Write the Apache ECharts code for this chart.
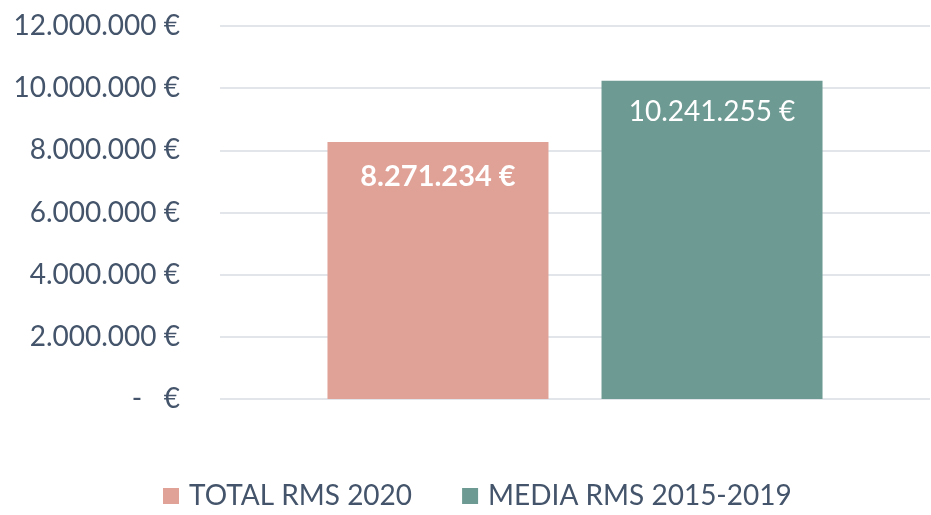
<!DOCTYPE html>
<html><head><meta charset="utf-8">
<script src="https://cdn.jsdelivr.net/npm/echarts@6/dist/echarts.min.js"></script>
<style>html,body{margin:0;padding:0;background:#fff}#c{width:931px;height:515px}</style>
</head><body><div id="c"></div>
<script>
const categories = [''];
const seriesNames = ['TOTAL RMS 2020', 'MEDIA RMS 2015-2019'];
const totalRms2020 = [8271234];
const mediaRms20152019 = [10241255];
const yTicks = [0, 2000000, 4000000, 6000000, 8000000, 10000000, 12000000];

function fmt(v) {
  if (v === 0) return '-   €';
  return String(Math.round(v)).replace(/\B(?=(\d{3})+(?!\d))/g, '.') + ' €';
}
const FONT = 'Lato';
const TXT = '#44546A';
const chart = echarts.init(document.getElementById('c'));
chart.setOption({
  animation: false,
  textStyle: { fontFamily: FONT },
  grid: { left: 220, right: 1, top: 26, bottom: 116 },
  legend: {
    bottom: 0, left: 158, itemWidth: 16, itemHeight: 16, itemGap: 50,
    icon: 'rect',
    textStyle: { color: TXT, fontSize: 28, fontFamily: FONT, padding: [0, 0, 0, 5] },
    data: seriesNames
  },
  xAxis: {
    type: 'category', data: categories,
    axisLine: { show: false }, axisTick: { show: false }, axisLabel: { show: false }
  },
  yAxis: {
    type: 'value', min: yTicks[0], max: yTicks[yTicks.length - 1], interval: 2000000,
    axisLine: { show: false }, axisTick: { show: false },
    splitLine: { lineStyle: { color: '#D9DEE5', width: 1.5 } },
    axisLabel: { color: TXT, fontSize: 28, fontFamily: FONT, margin: 40, formatter: fmt }
  },
  series: [
    {
      name: seriesNames[0], type: 'bar', data: totalRms2020, barWidth: 221, barGap: '24%',
      itemStyle: { color: '#E0A197' },
      label: { show: true, position: 'insideTop', distance: 20, color: '#fff', fontSize: 29, fontWeight: 'bold', fontFamily: FONT, formatter: p => fmt(p.value) }
    },
    {
      name: seriesNames[1], type: 'bar', data: mediaRms20152019, barWidth: 221,
      itemStyle: { color: '#6D9A93' },
      label: { show: true, position: 'insideTop', distance: 17, color: '#fff', fontSize: 28, fontFamily: FONT, formatter: p => fmt(p.value) }
    }
  ]
});
</script></body></html>
